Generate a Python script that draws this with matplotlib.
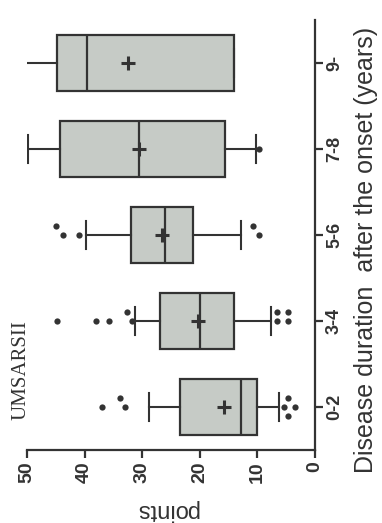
import matplotlib
matplotlib.use("Agg")
import matplotlib.pyplot as plt

# box statistics (points)
groups = ["0-2", "3-4", "5-6", "7-8", "9-"]
q1 = [10.1, 14.1, 21.1, 15.7, 14.0]
med = [12.8, 19.9, 26.0, 30.6, 39.5]
q3 = [23.4, 26.9, 31.9, 44.2, 44.8]
mean = [15.8, 20.3, 26.5, 30.6, 32.5]
whislo = [6.3, 7.7, 12.8, 10.3, 14.0]
whishi = [28.9, 31.2, 39.7, 49.8, 49.8]
show_caps = [True, True, True, True, False]
outliers = [
    [37.0, 33.0, 33.8, 5.4, 4.7, 4.7, 3.4],
    [44.8, 38.1, 35.8, 31.7, 32.6, 6.6, 6.6, 4.7, 4.7],
    [43.8, 45.0, 40.9, 9.7, 10.7],
    [9.8],
    [],
]

W, H = 382, 523
fig = plt.figure(figsize=(W / 100, H / 100), dpi=100)
ax = fig.add_axes([27 / W, 1 - 450 / H, (315 - 27) / W, (450 - 20) / H])

dark = "#333333"
fill = "#c6cbc6"

stats = []
for i, g in enumerate(groups):
    stats.append(dict(label=g, q1=q1[i], med=med[i], q3=q3[i], mean=mean[i],
                      whislo=whislo[i], whishi=whishi[i], fliers=[]))

pos = list(range(1, len(groups) + 1))
bp = ax.bxp(stats, positions=pos, widths=0.65, vert=False, patch_artist=True,
            showmeans=True, showfliers=False, capwidths=0.33,
            boxprops=dict(facecolor=fill, edgecolor=dark, linewidth=1.6),
            medianprops=dict(color=dark, linewidth=1.6),
            whiskerprops=dict(color=dark, linewidth=1.5),
            capprops=dict(color=dark, linewidth=1.5),
            meanprops=dict(marker="+", markersize=10, markeredgewidth=2.2,
                           markeredgecolor=dark))

for i, show in enumerate(show_caps):
    if not show:
        bp["caps"][2 * i + 1].set_visible(False)


# outliers: nearly equal values are stacked a little above/below the row
def spread(vals, p, gap=1.25, step=0.11):
    ys = []
    for i, v in enumerate(vals):
        n = sum(abs(v - w) < gap for w in vals[:i])
        ys.append(p + step * ((n + 1) // 2) * (-1) ** (n + 1))
    return ys


for p, vals in zip(pos, outliers):
    if vals:
        ax.plot(vals, spread(vals, p), "o", color=dark, markersize=4.5,
                markeredgewidth=0, linestyle="none")

ax.set_xlim(50, 0)
ax.set_ylim(0.5, 5.5)
ax.set_xticks([50, 40, 30, 20, 10, 0])
ax.set_yticks(pos)
ax.set_yticklabels(groups)
ax.yaxis.tick_right()

for s in ["top", "left"]:
    ax.spines[s].set_visible(False)
for s in ["bottom", "right"]:
    ax.spines[s].set_linewidth(1.6)
    ax.spines[s].set_color(dark)

ax.tick_params(axis="x", direction="out", length=6, width=1.6, color=dark,
               labelsize=14, labelcolor=dark, pad=2)
ax.tick_params(axis="y", direction="out", length=6, width=1.6, color=dark,
               labelsize=13, labelcolor=dark, pad=2)
for t in ax.get_xticklabels():
    t.set_rotation(90)
    t.set_fontfamily("Liberation Sans")
    t.set_fontweight("bold")
for t in ax.get_yticklabels():
    t.set_rotation(90)
    t.set_fontfamily("Liberation Sans")
    t.set_fontweight("bold")
    t.set_verticalalignment("center")

fig.text(167 / W, 1 - 510 / H, "points", rotation=180, ha="center", va="center",
         fontsize=17, color=dark, family="Liberation Sans")
fig.text(366 / W, 1 - 250 / H, "Disease duration  after the onset (years)",
         rotation=90, ha="center", va="center", fontsize=18, color=dark,
         family="Liberation Sans")
fig.text(21 / W, 1 - 370 / H, "UMSARSII", rotation=90, ha="center", va="center",
         fontsize=15, color=dark, family="Liberation Serif")

fig.savefig("out.png", dpi=100)
